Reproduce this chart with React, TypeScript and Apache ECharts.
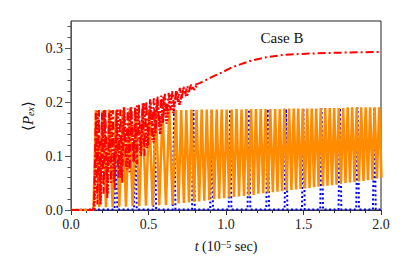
import React, { useEffect, useRef } from "react";
import * as echarts from "echarts";

// ---- data ----
const xTickLabels = ["0.0", "0.5", "1.0", "1.5", "2.0"];
const yTickValues = [0, 0.1, 0.2, 0.3];
const yMinorValues = [0.02, 0.04, 0.06, 0.08, 0.12, 0.14, 0.16, 0.18, 0.22, 0.24, 0.26, 0.28, 0.32, 0.34];

// orange (solid) oscillation: peaks and troughs
const orangeStart = [[0, 0], [0.145, 0]];
const orangePeakT = [
  0.161, 0.204, 0.247, 0.29, 0.333, 0.376, 0.419, 0.462, 0.505, 0.548, 0.591, 0.634,
  0.677, 0.711, 0.744, 0.777, 0.81, 0.843, 0.876, 0.908, 0.94, 0.972,
  1.004, 1.036, 1.068, 1.1, 1.131, 1.162, 1.193, 1.224, 1.255, 1.286,
  1.317, 1.347, 1.377, 1.407, 1.437, 1.466, 1.495, 1.524, 1.553, 1.582,
  1.611, 1.64, 1.669, 1.698, 1.727, 1.756, 1.785, 1.814, 1.843, 1.872,
  1.901, 1.93, 1.959, 1.988,
];
const orangePeakV = [
  0.185, 0.184, 0.186, 0.185, 0.185, 0.184, 0.185, 0.186, 0.185, 0.185, 0.185, 0.185,
  0.185, 0.185, 0.185, 0.186, 0.185, 0.186, 0.186, 0.186, 0.186, 0.186,
  0.186, 0.186, 0.187, 0.186, 0.187, 0.187, 0.187, 0.187, 0.187, 0.187,
  0.187, 0.187, 0.188, 0.188, 0.188, 0.188, 0.188, 0.188, 0.188, 0.188,
  0.189, 0.189, 0.189, 0.189, 0.189, 0.189, 0.19, 0.19, 0.19, 0.19,
  0.19, 0.19, 0.19, 0.19,
];
const orangeTroughT = [
  0.1825, 0.2255, 0.2685, 0.3115, 0.3545, 0.3975, 0.4405, 0.4835, 0.5265, 0.5695, 0.6125, 0.6555,
  0.694, 0.728, 0.761, 0.794, 0.827, 0.86, 0.892, 0.924, 0.956, 0.988,
  1.02, 1.052, 1.084, 1.116, 1.147, 1.178, 1.209, 1.24, 1.271, 1.302,
  1.332, 1.362, 1.392, 1.422, 1.452, 1.481, 1.51, 1.539, 1.568, 1.597,
  1.626, 1.655, 1.684, 1.713, 1.742, 1.771, 1.8, 1.829, 1.858, 1.887,
  1.916, 1.945, 1.974, 2.003,
];
const orangeTroughV = [
  0.005, 0.005, 0.005, 0.006, 0.006, 0.007, 0.007, 0.008, 0.008, 0.009, 0.009, 0.01,
  0.012, 0.013, 0.014, 0.015, 0.016, 0.017, 0.018, 0.02, 0.021, 0.022,
  0.023, 0.024, 0.025, 0.026, 0.027, 0.028, 0.03, 0.031, 0.032, 0.033,
  0.034, 0.035, 0.036, 0.037, 0.038, 0.039, 0.04, 0.041, 0.042, 0.043,
  0.044, 0.045, 0.046, 0.047, 0.049, 0.05, 0.051, 0.052, 0.053, 0.054,
  0.055, 0.056, 0.058, 0.06,
];

// blue (dotted) spikes
const blueSpikeT = [0.29, 0.415, 0.54, 0.665, 0.79, 0.907, 1.026, 1.148, 1.269, 1.387, 1.499, 1.617, 1.735, 1.849, 1.957];
const blueSpikeV = [0.185, 0.185, 0.185, 0.185, 0.185, 0.186, 0.186, 0.186, 0.187, 0.187, 0.188, 0.188, 0.189, 0.19, 0.19];
const blueBaseV = 0.001;

// red (dash-dot) average: noisy early, smooth later
const redT = [
  0, 0.14, 0.15, 0.16, 0.17, 0.18, 0.19, 0.2, 0.21, 0.222, 0.234, 0.246, 0.258, 0.27, 0.282, 0.294,
  0.306, 0.318, 0.33, 0.342, 0.354, 0.366, 0.378, 0.39, 0.402, 0.414, 0.426, 0.438, 0.45, 0.462,
  0.474, 0.486, 0.498, 0.51, 0.522, 0.534, 0.546, 0.558, 0.57, 0.582, 0.594, 0.606, 0.618, 0.63,
  0.642, 0.654, 0.666, 0.678, 0.69, 0.702, 0.714, 0.726, 0.738, 0.75, 0.762, 0.774, 0.786, 0.8,
  0.83, 0.9, 0.961, 1.045, 1.155, 1.26, 1.37, 1.477, 1.69, 1.85, 2.0,
];
const redV = [
  0, 0, 0.02, 0.18, 0.01, 0.185, 0.02, 0.18, 0.03, 0.185, 0.02, 0.18, 0.05, 0.185, 0.04, 0.183,
  0.06, 0.186, 0.05, 0.185, 0.08, 0.188, 0.07, 0.19, 0.09, 0.192, 0.085, 0.196, 0.11, 0.198,
  0.1, 0.202, 0.12, 0.205, 0.13, 0.207, 0.14, 0.21, 0.155, 0.212, 0.16, 0.215, 0.175, 0.217,
  0.185, 0.22, 0.19, 0.222, 0.2, 0.226, 0.205, 0.228, 0.215, 0.23, 0.22, 0.232, 0.225, 0.232,
  0.235, 0.245, 0.253, 0.265, 0.276, 0.283, 0.287, 0.289, 0.291, 0.292, 0.2926,
];

// red (dotted) early oscillation
const redDotT = [
  0.15, 0.17, 0.19, 0.213, 0.235, 0.256, 0.278, 0.3, 0.32, 0.342, 0.363, 0.385, 0.406, 0.428, 0.45,
  0.47, 0.49, 0.512, 0.533, 0.555, 0.575, 0.597, 0.617, 0.64, 0.66, 0.682, 0.7, 0.725, 0.745, 0.77,
  0.79, 0.81,
];
const redDotV = [
  0.0, 0.183, 0.01, 0.185, 0.03, 0.185, 0.05, 0.187, 0.06, 0.19, 0.075, 0.19, 0.09, 0.195, 0.1,
  0.198, 0.115, 0.2, 0.125, 0.205, 0.14, 0.21, 0.16, 0.215, 0.18, 0.22, 0.195, 0.225, 0.21, 0.228,
  0.222, 0.23,
];

const FONT = "'Liberation Serif', 'DejaVu Serif', serif";

export default function App() {
  const ref = useRef<HTMLDivElement>(null);
  useEffect(() => {
    if (!ref.current) return;
    const chart = echarts.init(ref.current, undefined, { renderer: "svg" });

    const orangeData: number[][] = orangeStart.map((p) => [p[0], p[1]]);
    orangePeakT.forEach((t, i) => {
      orangeData.push([t, orangePeakV[i]]);
      orangeData.push([orangeTroughT[i], orangeTroughV[i]]);
    });

    const blueData: number[][] = [[0, 0], [0.15, blueBaseV]];
    blueSpikeT.forEach((t, i) => {
      blueData.push([t - 0.009, blueBaseV]);
      blueData.push([t, blueSpikeV[i]]);
      blueData.push([t + 0.009, blueBaseV]);
    });
    blueData.push([2.0, blueBaseV]);

    const redData = redT.map((t, i) => [t, redV[i]]);
    const redDotData = redDotT.map((t, i) => [t, redDotV[i]]);

    chart.setOption({
      animation: false,
      grid: { left: 71, right: 26, top: 21, bottom: 61, show: true, borderColor: "#222", borderWidth: 1 },
      xAxis: {
        type: "value",
        min: 0,
        max: 2,
        interval: 0.5,
        axisLine: { show: true, lineStyle: { color: "#333", width: 1 } },
        axisTick: { show: true, inside: false, length: 5, lineStyle: { color: "#333" } },
        minorTick: { show: true, splitNumber: 5, length: 3, lineStyle: { color: "#333" } },
        splitLine: { show: false },
        axisLabel: {
          color: "#222",
          fontFamily: FONT,
          fontSize: 14,
          margin: 7,
          formatter: (v: number) => xTickLabels[Math.round(v * 2)] ?? "",
        },
      },
      yAxis: [
        {
          type: "value",
          min: 0,
          max: 0.35,
          interval: 0.1,
          position: "left",
          axisLine: { show: true, lineStyle: { color: "#555", width: 1 } },
          axisTick: { show: true, inside: false, length: 6, customValues: yTickValues, lineStyle: { color: "#555" } },
          splitLine: { show: false },
          axisLabel: {
            color: "#222",
            fontFamily: FONT,
            fontSize: 14,
            margin: 8,
            customValues: yTickValues,
            formatter: (v: number) => v.toFixed(1),
          },
        },
        {
          type: "value",
          min: 0,
          max: 0.35,
          position: "left",
          offset: 0,
          axisLine: { show: false },
          axisTick: { show: true, inside: false, length: 3.5, customValues: yMinorValues, lineStyle: { color: "#555" } },
          splitLine: { show: false },
          axisLabel: { show: false },
        },
      ],
      series: [
        {
          type: "line",
          data: blueData,
          showSymbol: false,
          symbol: "none",
          lineStyle: { color: "#0000ff", width: 2, type: [2, 2.5] },
          z: 1,
        },
        {
          type: "line",
          data: orangeData,
          showSymbol: false,
          symbol: "none",
          lineStyle: { color: "#ff8c00", width: 2.5 },
          z: 2,
        },
        {
          type: "line",
          data: redDotData,
          showSymbol: false,
          symbol: "none",
          lineStyle: { color: "#ff0000", width: 2.5, type: [2, 1.5] },
          z: 3,
        },
        {
          type: "line",
          data: redData,
          showSymbol: false,
          symbol: "none",
          lineStyle: { color: "#ff0000", width: 2, type: [8, 3, 2, 3] },
          z: 4,
        },
      ],
      graphic: [
        {
          type: "text",
          x: 282,
          y: 38,
          style: { text: "Case B", font: `15px ${FONT}`, fill: "#111", textAlign: "center", textVerticalAlign: "middle" },
        },
        {
          type: "text",
          x: 226,
          y: 246,
          style: {
            text: "{i|t} (10{s|−5} sec)",
            font: `14px ${FONT}`,
            fill: "#111",
            textAlign: "center",
            textVerticalAlign: "middle",
            rich: {
              i: { fontStyle: "italic", fontFamily: FONT, fontSize: 14, fill: "#111" },
              s: { fontFamily: FONT, fontSize: 10, verticalAlign: "top", fill: "#111" },
            },
          },
        },
        {
          type: "text",
          x: 28,
          y: 116,
          rotation: Math.PI / 2,
          style: {
            text: "⟨{i|P}{sub|ex}⟩",
            font: `15px ${FONT}`,
            fill: "#111",
            textAlign: "center",
            textVerticalAlign: "middle",
            rich: {
              i: { fontStyle: "italic", fontFamily: FONT, fontSize: 15, fill: "#111" },
              sub: { fontStyle: "italic", fontFamily: FONT, fontSize: 10, verticalAlign: "bottom", fill: "#111" },
            },
          },
        },
      ],
    });
    return () => chart.dispose();
  }, []);
  return <div ref={ref} style={{ position: "absolute", left: 0, top: 0, width: 407, height: 271 }} />;
}
